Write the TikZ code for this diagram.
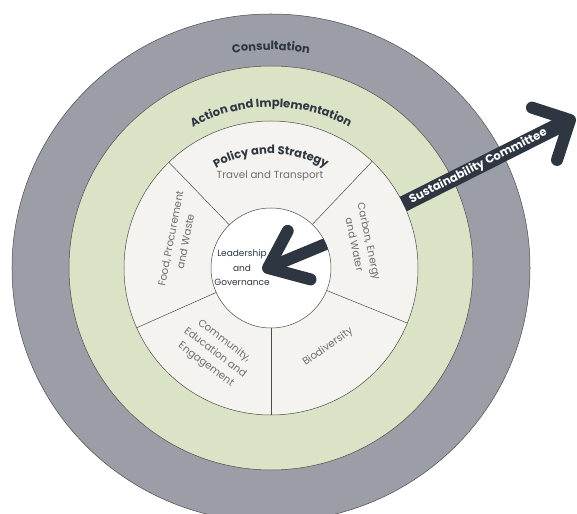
\documentclass[tikz,border=0pt]{standalone}
\usepackage{fontspec}
\setmainfont{Poppins}
\usetikzlibrary{calc,decorations.text}
\definecolor{ink}{HTML}{2E3642}
\definecolor{ringgray}{HTML}{9B9EA6}
\definecolor{ringgreen}{HTML}{DBE3C7}
\definecolor{segfill}{HTML}{F4F3EF}
\definecolor{segtext}{HTML}{6E6E6E}
\newcommand{\ringfont}{\fontsize{11.5}{11.5}\selectfont\bfseries}

\begin{document}
\begin{tikzpicture}[x=1pt,y=1pt,
    ring/.style={draw=black!70,line width=0.5pt},
    seg label/.style={text=segtext,align=center,font=\fontsize{10.3}{15}\selectfont},
    fat/.style={ink,line width=12pt,line cap=round,line join=round},
    curved/.style={decorate,decoration={text along path,text align=center,
                   text color=ink,text={|\ringfont|#1}}}]

  \useasboundingbox (-271,-245) rectangle (306,268);
  \fill[white] (-271,-245) rectangle (306,268);
  \clip (-271,-245) rectangle (306,268);

  \draw[ring,fill=ringgray] (0,0) ellipse [x radius=259,y radius=254];
  \draw[ring,fill=ringgreen] (0,0) circle (202);
  \draw[ring,fill=segfill] (0,0) circle (147);
  \foreach \a in {270,338,46.5,134,204}
    \draw[ring] (\a:60) -- (\a:147);
  \draw[ring,fill=white] (0,0) circle (60);

  \path[curved=Consultation] (170:218) arc[start angle=170,end angle=10,radius=218];
  \path[curved=Action and Implementation] (170:161) arc[start angle=170,end angle=10,radius=161];
  \path[curved=Policy and Strategy] (170:114) arc[start angle=170,end angle=10,radius=114];

  \node[seg label] (T) at (-1,92) {Travel and Transport};
  \node[seg label,rotate=79] (F) at (-93,28) {Food, Procurement\\and Waste};
  \node[seg label,rotate=-78] (C) at (91,25) {Carbon, Energy\\and Water};
  \node[seg label,rotate=-37] (E) at (-56,-85) {Community,\\Education and\\Engagement};
  \node[seg label,rotate=35] (B) at (57,-79) {Biodiversity};
  \node[text=ink,align=center,font=\fontsize{9}{14.5}\selectfont] (L) at (-29,0)
    {Leadership\\and\\Governance};

  \coordinate (tip) at (-3,0);
  \coordinate (in) at (23.5:70);
  \begin{scope}
    \clip (0,0) circle (60);
    \draw[ink,line width=12pt] (in) -- (tip);
  \end{scope}
  \draw[fat] ($(tip)+(62:42)$) -- (tip) -- ($(tip)+(-15:44)$);

  \coordinate (s) at (25.8:147);
  \coordinate (h) at (299,148);
  \draw[ink,line width=16pt] (s) -- (h)
    node[pos=0.45,sloped,text=white,font=\ringfont] (S) {Sustainability Committee};
  \draw[fat] ($(h)+(162:40)$) -- (h) -- ($(h)+(252:42)$);
\end{tikzpicture}
\end{document}
